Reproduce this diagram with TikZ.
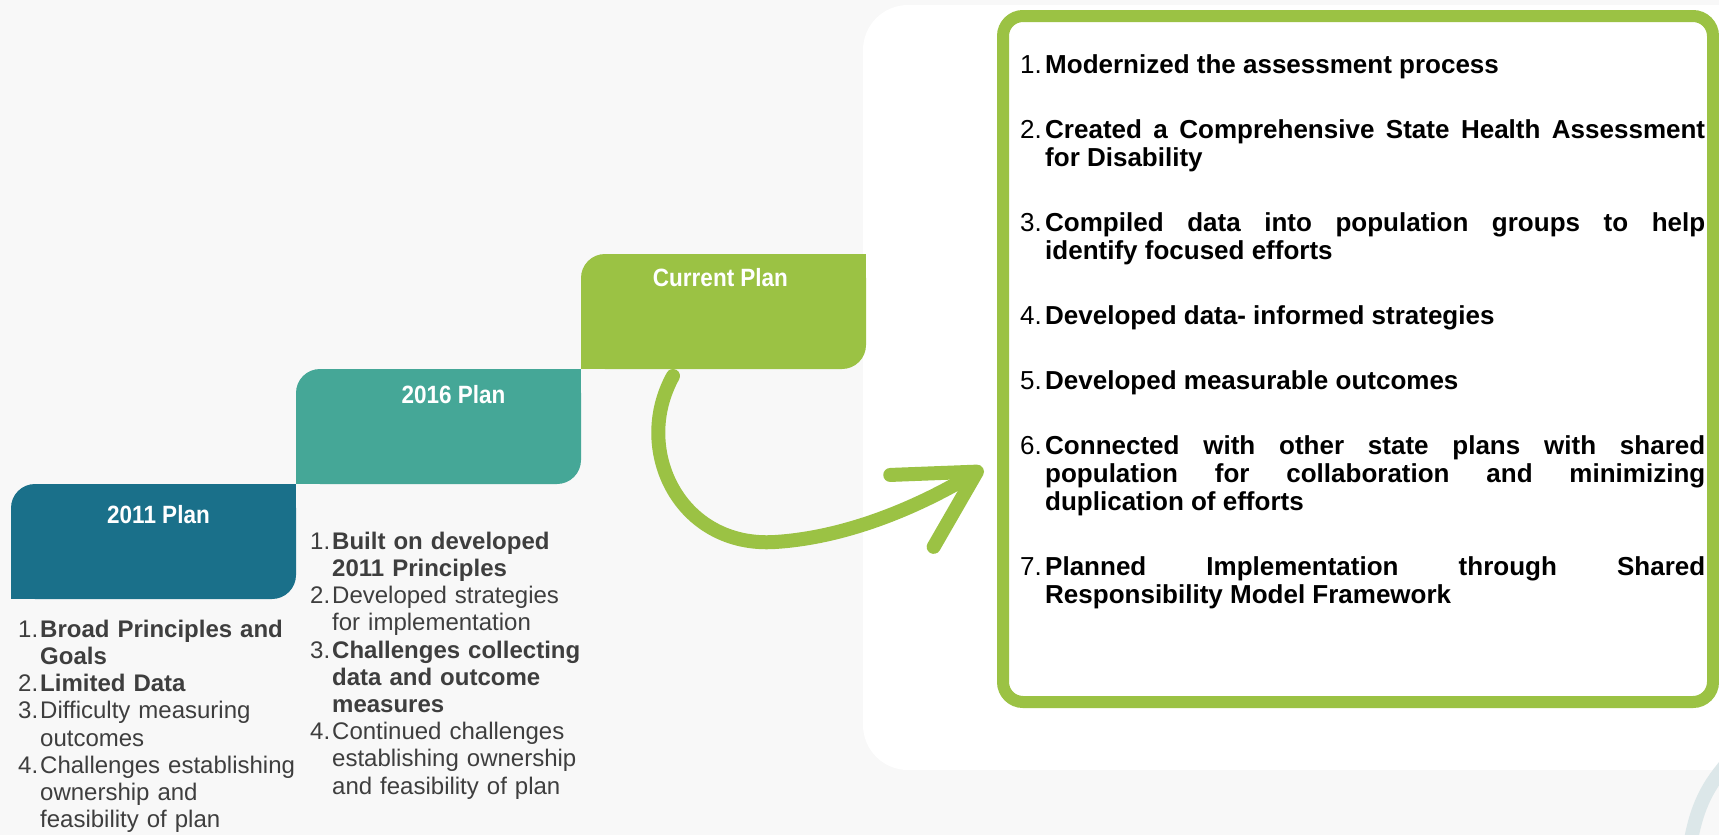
\documentclass[tikz,border=0pt]{standalone}
\usepackage{fontspec}
\setmainfont{Liberation Sans}
\newfontfamily\hdrfont[FakeStretch=0.9]{Liberation Sans}
\usetikzlibrary{arrows.meta,positioning}
\definecolor{plandeep}{HTML}{1A708A}
\definecolor{planteal}{HTML}{45A797}
\definecolor{planlime}{HTML}{9BC244}
\definecolor{slidebg}{HTML}{F8F8F8}
\definecolor{listgray}{HTML}{3E3E3E}
\definecolor{arcmist}{HTML}{DCE7E9}

% numbered item with a hanging indent
\newlength{\itemind}
\newcommand{\planitem}[2]{\par\hangindent=\itemind\hangafter=1\noindent\makebox[\itemind][l]{\mdseries#1}#2\par}

\begin{document}
\begin{tikzpicture}[
  x=1pt,y=-1pt,
  plan/.style={minimum width=285pt,minimum height=115pt,inner sep=0pt,outer sep=0pt,rounded corners=24pt},
  hdr/.style={text=white,inner sep=0pt,font=\hdrfont\fontsize{25}{27}\selectfont\bfseries},
  frame/.style={draw=planlime,line width=12pt,rounded corners=20pt,minimum width=710pt,minimum height=686pt,inner sep=0pt,outer sep=0pt},
  oldlist/.style={text width=300pt,align=left,inner sep=0pt,anchor=base west,text=listgray,font=\fontsize{24}{27.2}\selectfont,
    execute at begin node={\setlength{\itemind}{22pt}\setlength{\parskip}{0pt}}},
  newlist/.style={text width=685pt,align=justify,inner sep=0pt,anchor=base west,text=black,font=\fontsize{26}{28}\selectfont\bfseries,
    execute at begin node={\setlength{\itemind}{25pt}\setlength{\parskip}{37pt}}},
  swoop/.style={planlime,line width=14pt,line cap=round,-{Straight Barb[length=76pt,width=84pt,round]}}
]
\useasboundingbox (0,0) rectangle (1719,835);
\fill[slidebg] (0,0) rectangle (1719,835);
\fill[white,rounded corners=45pt] (863,5) rectangle (1800,770);
\draw[arcmist,line width=14pt] (1690,845) .. controls (1697,805) and (1708,785) .. (1730,760);

% the three plan steps
\node[plan,fill=plandeep,anchor=south west] (b2011) at (11,599) {};
\node[plan,fill=planteal,anchor=south west] (b2016) at (b2011.north east) {};
\node[plan,fill=planlime,anchor=south west] (bnow) at (b2016.north east) {};
\foreach \b/\c in {b2011/plandeep,b2016/planteal,bnow/planlime} {
  \fill[\c] (\b.north east) rectangle ++(-24,24);
  \fill[\c] (\b.south west) rectangle ++(24,-24);
}
\node[hdr,below=21pt of b2011.north,xshift=5pt] (h2011) {2011 Plan};
\node[hdr,below=16pt of b2016.north,xshift=15pt] (h2016) {2016 Plan};
\node[hdr,below=14pt of bnow.north,xshift=-3pt] (hnow) {Current Plan};

\node[oldlist] (l2011) at ([shift={(7,11)}]b2011.south west) {%
  \planitem{1.}{\textbf{Broad Principles and\newline Goals}}
  \planitem{2.}{\textbf{Limited Data}}
  \planitem{3.}{Difficulty measuring\newline outcomes}
  \planitem{4.}{Challenges establishing\newline ownership and\newline feasibility of plan}};
\node[oldlist] (l2016) at ([shift={(14,38)}]b2016.south west) {%
  \planitem{1.}{\textbf{Built on developed\newline 2011 Principles}}
  \planitem{2.}{Developed strategies\newline for implementation}
  \planitem{3.}{\textbf{Challenges collecting\newline data and outcome\newline measures}}
  \planitem{4.}{Continued challenges\newline establishing ownership\newline and feasibility of plan}};

% current plan outcomes
\node[frame,anchor=north west] (goals) at (1003,16) {};
\node[newlist] (lnow) at ([shift={(17,-7)}]goals.north west) {%
  \planitem{1.}{Modernized the assessment process}
  \planitem{2.}{Created a Comprehensive State Health Assessment\linebreak for Disability}
  \planitem{3.}{Compiled data into population groups to help\linebreak identify focused efforts}
  \planitem{4.}{Developed data- informed strategies}
  \planitem{5.}{Developed measurable outcomes}
  \planitem{6.}{Connected with other state plans with shared\linebreak population for collaboration and minimizing\linebreak duplication of efforts}
  \planitem{7.}{Planned Implementation through Shared\linebreak Responsibility Model Framework}};

\coordinate (arrfrom) at ([shift={(92,7)}]bnow.south west);
\coordinate (arrto) at (983,468);
\draw[swoop] (arrfrom) .. controls (632,450) and (680,548) .. (775,542)
  .. controls (855,537) and (930,500) .. (arrto);
\end{tikzpicture}
\end{document}
